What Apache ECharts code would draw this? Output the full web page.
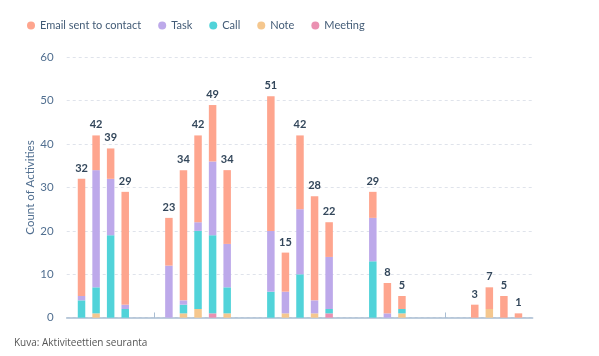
<!DOCTYPE html>
<html>
<head>
<meta charset="utf-8">
<script src="https://cdn.jsdelivr.net/npm/echarts@6/dist/echarts.min.js"></script>
<style>
  html, body { margin: 0; padding: 0; background: #ffffff; }
  #chart { width: 599px; height: 356px; }
</style>
</head>
<body>
<div id="chart"></div>
<script>
// ---- Data ----
var dates = ['2023-10-03','2023-10-04','2023-10-05','2023-10-06',
             '2023-10-09','2023-10-10','2023-10-11','2023-10-12','2023-10-13',
             '2023-10-16','2023-10-17','2023-10-18','2023-10-19','2023-10-20',
             '2023-10-23','2023-10-24','2023-10-25',
             '2023-10-30','2023-10-31','2023-11-01','2023-11-02'];
var emailSent = [27, 8, 7, 26, 11, 30, 20, 13, 17, 31, 9, 17, 24, 8, 6, 7, 3, 3, 5, 5, 1];
var task      = [1, 27, 13, 1, 12, 1, 2, 17, 10, 14, 5, 15, 3, 12, 10, 1, 0, 0, 0, 0, 0];
var call      = [4, 6, 19, 2, 0, 2, 18, 18, 6, 6, 0, 10, 0, 1, 13, 0, 1, 0, 0, 0, 0];
var note      = [0, 1, 0, 0, 0, 1, 2, 0, 1, 0, 1, 0, 1, 0, 0, 0, 1, 0, 2, 0, 0];
var meeting   = [0, 0, 0, 0, 0, 0, 0, 1, 0, 0, 0, 0, 0, 1, 0, 0, 0, 0, 0, 0, 0];
var tickDates = ['2023-10-08', '2023-10-28'];
var rangeStart = '2023-10-02';
var seriesNames = ['Email sent to contact', 'Task', 'Call', 'Note', 'Meeting'];
var yTicks = [0, 10, 20, 30, 40, 50, 60];
var yAxisTitle = 'Count of Activities';
var caption = 'Kuva: Aktiviteettien seuranta';

// ---- Helpers ----
var DAY = 86400000;
function ts(s) { var p = s.split('-'); return Date.UTC(+p[0], +p[1] - 1, +p[2]); }
var totals = dates.map(function (d, i) { return emailSent[i] + task[i] + call[i] + note[i] + meeting[i]; });
function pairs(arr) { return dates.map(function (d, i) { return [ts(d), arr[i] === 0 ? null : arr[i]]; }); }

var colors = {
  'Email sent to contact': '#fea58e',
  'Task': '#bda9ea',
  'Call': '#51d3d9',
  'Note': '#f5c78e',
  'Meeting': '#ea90b1'
};
var FONT = 'Lato, "Open Sans", sans-serif';

function bar(name, arr, withLabel) {
  var s = {
    name: name,
    type: 'bar',
    stack: 'all',
    barWidth: 7.5,
    data: pairs(arr),
    itemStyle: { color: colors[name] },
    emphasis: { disabled: true }
  };
  if (withLabel) {
    s.label = {
      show: true,
      position: 'top',
      distance: 5,
      color: '#33475b',
      fontWeight: 'bold',
      fontSize: 11,
      fontFamily: FONT,
      formatter: function (p) { return totals[p.dataIndex]; }
    };
  }
  return s;
}

var chart = echarts.init(document.getElementById('chart'), null, { renderer: 'canvas' });
chart.setOption({
  animation: false,
  color: seriesNames.map(function (n) { return colors[n]; }),
  legend: {
    data: seriesNames,
    left: 22,
    top: 15,
    icon: 'circle',
    itemWidth: 8,
    itemHeight: 8,
    itemGap: 17,
    textStyle: { color: '#425b76', fontSize: 11, fontFamily: FONT }
  },
  grid: { left: 66.7, right: 66.3, top: 57.3, bottom: 38.3, containLabel: false },
  xAxis: {
    type: 'time',
    min: ts(rangeStart) + 0.24 * DAY,
    max: ts(rangeStart) + 31.72 * DAY,
    axisLine: { show: true, lineStyle: { color: '#a9bdd2', width: 1.5 } },
    axisTick: { show: true, inside: true, length: 5, lineStyle: { color: '#a9bdd2', width: 1 },
                customValues: tickDates.map(ts) },
    axisLabel: { show: false },
    splitLine: { show: false }
  },
  yAxis: {
    type: 'value',
    min: yTicks[0],
    max: yTicks[yTicks.length - 1],
    interval: yTicks[1] - yTicks[0],
    name: yAxisTitle,
    nameLocation: 'middle',
    nameGap: 30,
    nameMoveOverlap: false,
    nameTextStyle: { color: '#516f90', fontSize: 11.5, fontFamily: FONT },
    axisLine: { show: false },
    axisTick: { show: false },
    axisLabel: { color: '#516f90', fontSize: 11.5, fontFamily: FONT, margin: 13 },
    splitLine: { show: true, lineStyle: { color: '#dfe3eb', type: [3, 3], width: 1 } }
  },
  graphic: [{
    type: 'text',
    left: 14,
    top: 338,
    style: { text: caption, fill: '#555555', fontSize: 10, fontFamily: '"Open Sans", sans-serif' }
  }],
  series: [
    bar('Meeting', meeting),
    bar('Note', note),
    bar('Call', call),
    bar('Task', task),
    bar('Email sent to contact', emailSent, true)
  ]
});
</script>
</body>
</html>
